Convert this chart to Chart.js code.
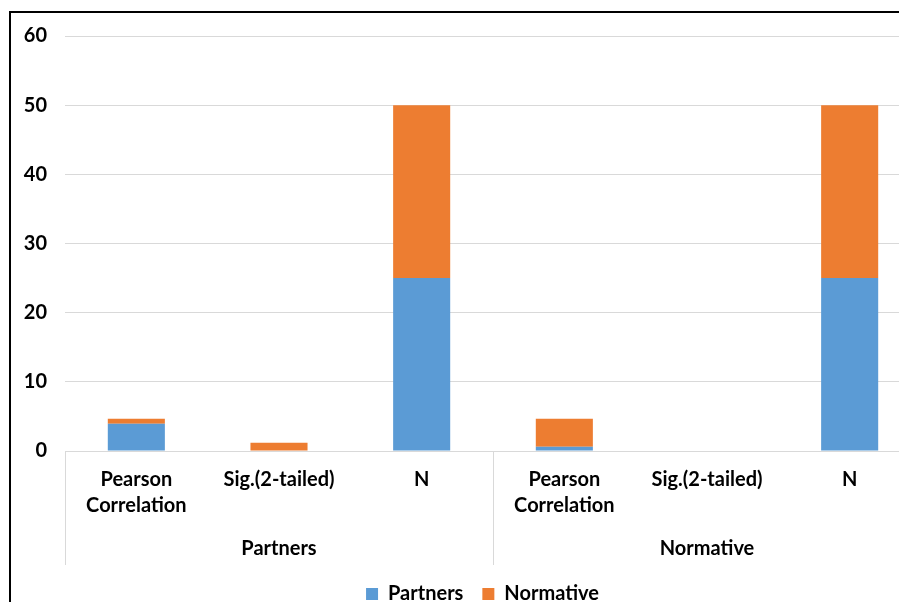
<!DOCTYPE html>
<html>
<head>
<meta charset="utf-8">
<script src="https://cdn.jsdelivr.net/npm/chart.js@4/dist/chart.umd.min.js"></script>
<style>
  html, body { margin: 0; padding: 0; background: #fff; overflow: hidden; width: 899px; height: 602px; }
  #wrap { position: absolute; left: 9px; top: 11px; width: 943px; height: 601px; border-left: 2px solid #000; border-top: 2px solid #000; }
  canvas { display: block; }
</style>
</head>
<body>
<div id="wrap"><canvas id="c" width="943" height="601"></canvas></div>
<script>
const categories = [['Pearson', 'Correlation'], 'Sig.(2-tailed)', 'N', ['Pearson', 'Correlation'], 'Sig.(2-tailed)', 'N'];
const groups = ['Partners', 'Normative'];
const partnersValues = [3.95, 0, 25, 0.6, 0, 25];
const normativeValues = [0.7, 1.2, 25, 4.05, 0, 25];
const yTicks = [0, 10, 20, 30, 40, 50, 60];

const FONT = 'Lato';
const gridColor = '#d9d9d9';

const separators = {
  id: 'separators',
  afterDraw(chart) {
    const x = chart.scales.x, x2 = chart.scales.x2;
    const ctx = chart.ctx;
    const w = x.getPixelForTick(1) - x.getPixelForTick(0);
    const per = categories.length / groups.length;
    ctx.save();
    ctx.strokeStyle = gridColor;
    ctx.lineWidth = 1;
    for (let g = 0; g <= groups.length; g++) {
      const idx = g * per;
      const px = Math.round(x.getPixelForTick(Math.min(idx, categories.length - 1)) + (idx >= categories.length ? w / 2 : -w / 2)) + 0.5;
      ctx.beginPath();
      ctx.moveTo(px, chart.chartArea.bottom);
      ctx.lineTo(px, x2.bottom);
      ctx.stroke();
    }
    ctx.restore();
  }
};

new Chart(document.getElementById('c'), {
  type: 'bar',
  data: {
    labels: categories,
    datasets: [
      { label: 'Partners', data: partnersValues, backgroundColor: '#5B9BD5', borderWidth: 0 },
      { label: 'Normative', data: normativeValues, backgroundColor: '#ED7D31', borderWidth: 0 }
    ]
  },
  options: {
    responsive: false,
    animation: false,
    devicePixelRatio: 1,
    layout: { padding: { top: 23, right: 0, left: 0, bottom: 0 } },
    datasets: { bar: { categoryPercentage: 0.4, barPercentage: 1 } },
    plugins: {
      legend: {
        position: 'bottom',
        labels: { boxWidth: 12, boxHeight: 12, padding: 19, color: '#000', font: { family: FONT, size: 20, weight: 'bold' } }
      },
      tooltip: { enabled: false }
    },
    scales: {
      x: {
        stacked: true,
        grid: { display: false },
        border: { display: false },
        ticks: { color: '#000', padding: 8, maxRotation: 0, autoSkip: false, font: { family: FONT, size: 20, weight: 'bold', lineHeight: 1.3 } },
        afterFit(s) { s.height = 70; }
      },
      x2: {
        type: 'category',
        labels: groups,
        position: 'bottom',
        offset: true,
        grid: { display: false },
        border: { display: false },
        ticks: { color: '#000', padding: 8, font: { family: FONT, size: 20, weight: 'bold' } },
        afterFit(s) { s.height = 44; }
      },
      y: {
        stacked: true,
        min: yTicks[0],
        max: yTicks[yTicks.length - 1],
        afterBuildTicks(s) { s.ticks = yTicks.map(v => ({ value: v })); },
        grid: { color: gridColor, drawTicks: true, tickLength: 14, tickColor: 'rgba(0,0,0,0)' },
        border: { display: false },
        ticks: { color: '#000', padding: 4, font: { family: FONT, size: 20, weight: 'bold' } },
        afterFit(s) { s.width = 54; }
      },
      yRight: {
        type: 'linear',
        position: 'right',
        min: 0,
        max: 60,
        grid: { display: false },
        border: { display: false },
        ticks: { display: false },
        afterFit(s) { s.width = 33; }
      }
    }
  },
  plugins: [separators]
});
</script>
</body>
</html>
